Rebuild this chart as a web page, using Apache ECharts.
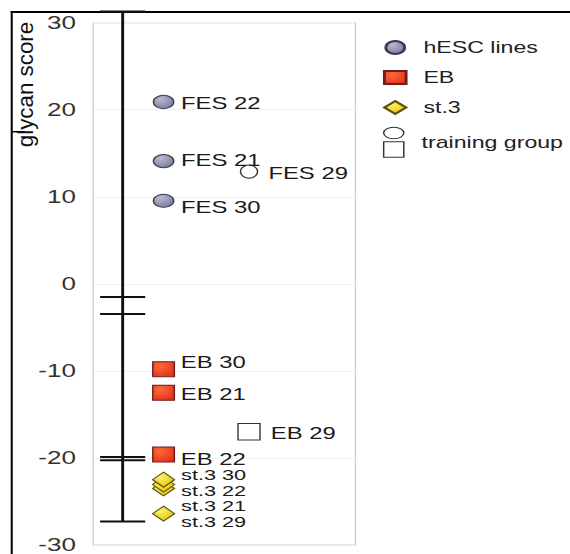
<!DOCTYPE html>
<html>
<head>
<meta charset="utf-8">
<script src="https://cdn.jsdelivr.net/npm/echarts@6/dist/echarts.min.js"></script>
<style>
  html, body { margin: 0; padding: 0; background: #fff; }
  #wrap { width: 570px; height: 554px; overflow: hidden; position: relative; background: #fff; }
  /* the figure is drawn narrow and widened horizontally */
  #chart { width: 394px; height: 554px; transform: scaleX(1.4467); transform-origin: 0 0; }
</style>
</head>
<body>
<div id="wrap"><div id="chart"></div></div>
<script>
// glycan scores per sample
const hescNames = ['FES 22', 'FES 21', 'FES 30'];
const hescScores = [20.9, 14.1, 9.55];

const ebNames = ['EB 30', 'EB 21', 'EB 22'];
const ebScores = [-9.8, -12.5, -19.6];

// listed bottom-up so the upper diamonds sit on top of the lower ones
const st3Names = ['st.3 29', 'st.3 21', 'st.3 22', 'st.3 30'];
const st3Scores = [-26.4, -23.5, -23.05, -22.5];

const trainingNames = ['FES 29', 'EB 29'];
const trainingScores = [12.9, -17.0];

// range bar with its cap marks
const rangeEnds = [31.3, -27.3];
const rangeCaps = [31.3, -1.5, -3.45, -19.9, -20.26, -27.3];

// y axis ticks
const yMin = -30, yMax = 30, yStep = 10;

// horizontal columns (x axis runs 0..10, hidden)
const COL_RANGE = 1.12, COL_GROUP = 2.68, COL_TRAIN = 5.94;

// label nudges in px so the sample names do not collide
const labelNudge = {
  'FES 22': 0, 'FES 21': -3, 'FES 30': 5, 'FES 29': 0,
  'EB 30': -8.5, 'EB 21': 0, 'EB 22': 3, 'EB 29': 0,
  'st.3 30': -6, 'st.3 22': 4.7, 'st.3 21': 16.2, 'st.3 29': 6.4
};
const trainingShape = { 'FES 29': ['circle', [11.8, 13]], 'EB 29': ['rect', [15.2, 16.5]] };

const FONT = 'Liberation Sans, Arial, sans-serif';

function pts(names, scores, col) {
  return names.map((n, i) => ({
    name: n,
    value: [col, scores[i]],
    label: { offset: [0, 1.5 + (labelNudge[n] || 0)] }
  }));
}

const labelStyle = (dist, size) => ({
  show: true, position: 'right', distance: dist,
  formatter: p => p.name,
  fontSize: size || 16.5, lineHeight: 13, color: '#1a1a1a', fontFamily: FONT
});

function grad(c0, c1) {
  return { type: 'radial', x: 0.35, y: 0.3, r: 0.8,
    colorStops: [{ offset: 0, color: c0 }, { offset: 1, color: c1 }] };
}

const chart = echarts.init(document.getElementById('chart'), null, { renderer: 'svg' });

chart.setOption({
  animation: false,
  backgroundColor: '#fff',
  grid: { left: 64.5, right: 148.3, top: 22.7, bottom: 7.5, show: true,
    borderColor: '#cfcfcf', borderWidth: 1, backgroundColor: '#fff' },
  xAxis: { type: 'value', min: 0, max: 10, show: false },
  yAxis: {
    type: 'value', min: yMin, max: yMax, interval: yStep,
    axisLine: { show: false }, axisTick: { show: false },
    axisLabel: { fontSize: 18, color: '#333', fontFamily: FONT, margin: 12, padding: [4, 0, 0, 0] },
    splitLine: { lineStyle: { color: '#efefef', width: 1 } }
  },
  legend: [{
    orient: 'vertical', left: 264.7, top: 39.5, padding: 0,
    itemWidth: 15, itemHeight: 13, itemGap: 14,
    selectedMode: false,
    textStyle: { fontSize: 16, color: '#222', fontFamily: FONT, lineHeight: 13, padding: [0, 0, 0, 7] },
    data: [
      { name: 'hESC lines', icon: 'circle' },
      { name: 'EB', icon: 'rect' },
      { name: 'st.3', icon: 'diamond' }
    ]
  }, {
    orient: 'vertical', left: 264.7, top: 126.7, padding: 0,
    itemWidth: 14.5, itemHeight: 30,
    selectedMode: false,
    textStyle: { fontSize: 16, color: '#222', fontFamily: FONT, lineHeight: 13, padding: [0, 0, 18, 7] },
    data: [{
      name: 'training group',
      icon: 'path://M0.5,6 A6.75,5.6 0 1,1 14,6 A6.75,5.6 0 1,1 0.5,6 Z M0.5,14.5 L14,14.5 L14,29.5 L0.5,29.5 Z',
      itemStyle: { color: '#fff', borderColor: '#333', borderWidth: 1 }
    }]
  }],
  graphic: [
    { type: 'line', silent: true, shape: { x1: 8.1, y1: 11, x2: 8.1, y2: 554 }, style: { stroke: '#000', lineWidth: 1.4 } },
    { type: 'line', silent: true, shape: { x1: 7.4, y1: 12, x2: 394, y2: 12 }, style: { stroke: '#000', lineWidth: 2 } },
    { type: 'line', silent: true, shape: { x1: 8.1, y1: 131.7, x2: 17.3, y2: 131.7 }, style: { stroke: '#000', lineWidth: 1.5 } },
    { type: 'text', silent: true, x: 17.6, y: 84.5, rotation: Math.PI / 2, scaleX: 1.49,
      style: { text: 'glycan score', fontSize: 15, fontFamily: FONT, fill: '#111', align: 'center', verticalAlign: 'middle' } }
  ],
  series: [
    {
      type: 'custom', name: 'range', clip: false, silent: true, z: 1,
      encode: { x: 0, y: [1, 2] },
      data: [[COL_RANGE, rangeEnds[0], rangeEnds[1]]],
      renderItem: (params, api) => {
        const a = api.coord([api.value(0), api.value(1)]);
        const b = api.coord([api.value(0), api.value(2)]);
        return { type: 'line', shape: { x1: a[0], y1: a[1], x2: b[0], y2: b[1] },
          style: { stroke: '#111', lineWidth: 2 } };
      }
    },
    {
      type: 'custom', name: 'caps', clip: false, silent: true, z: 1,
      encode: { x: 0, y: 1 },
      data: rangeCaps.map(v => [COL_RANGE, v]),
      renderItem: (params, api) => {
        const p = api.coord([api.value(0), api.value(1)]);
        return { type: 'line', shape: { x1: p[0] - 15.6, y1: p[1], x2: p[0] + 15.6, y2: p[1] },
          style: { stroke: '#111', lineWidth: 2 } };
      }
    },
    {
      type: 'scatter', name: 'hESC lines', z: 3, symbol: 'circle', symbolSize: [14, 13],
      itemStyle: { color: grad('#b8bad3', '#77799a'), borderColor: '#3a3a4e', borderWidth: 1, opacity: 1 },
      label: labelStyle(4.5),
      data: pts(hescNames, hescScores, COL_GROUP)
    },
    {
      type: 'scatter', name: 'EB', z: 3, symbol: 'rect', symbolSize: [14.9, 15],
      itemStyle: { color: grad('#ff6a3a', '#e3301a'), borderColor: '#6e1e1e', borderWidth: 1, opacity: 1 },
      label: labelStyle(4),
      data: pts(ebNames, ebScores, COL_GROUP)
    },
    {
      type: 'scatter', name: 'st.3', z: 3, symbol: 'diamond', symbolSize: [15.2, 15],
      itemStyle: { color: grad('#fff06a', '#e2c400'), borderColor: '#5e5418', borderWidth: 1, opacity: 1 },
      label: labelStyle(4, 15),
      data: pts(st3Names, st3Scores, COL_GROUP)
    },
    {
      type: 'scatter', name: 'training group', z: 3,
      itemStyle: { color: '#fff', borderColor: '#333', borderWidth: 1, opacity: 1 },
      label: labelStyle(7),
      data: pts(trainingNames, trainingScores, COL_TRAIN).map(d => Object.assign(d, {
        symbol: trainingShape[d.name][0], symbolSize: trainingShape[d.name][1]
      }))
    }
  ]
});
</script>
</body>
</html>
